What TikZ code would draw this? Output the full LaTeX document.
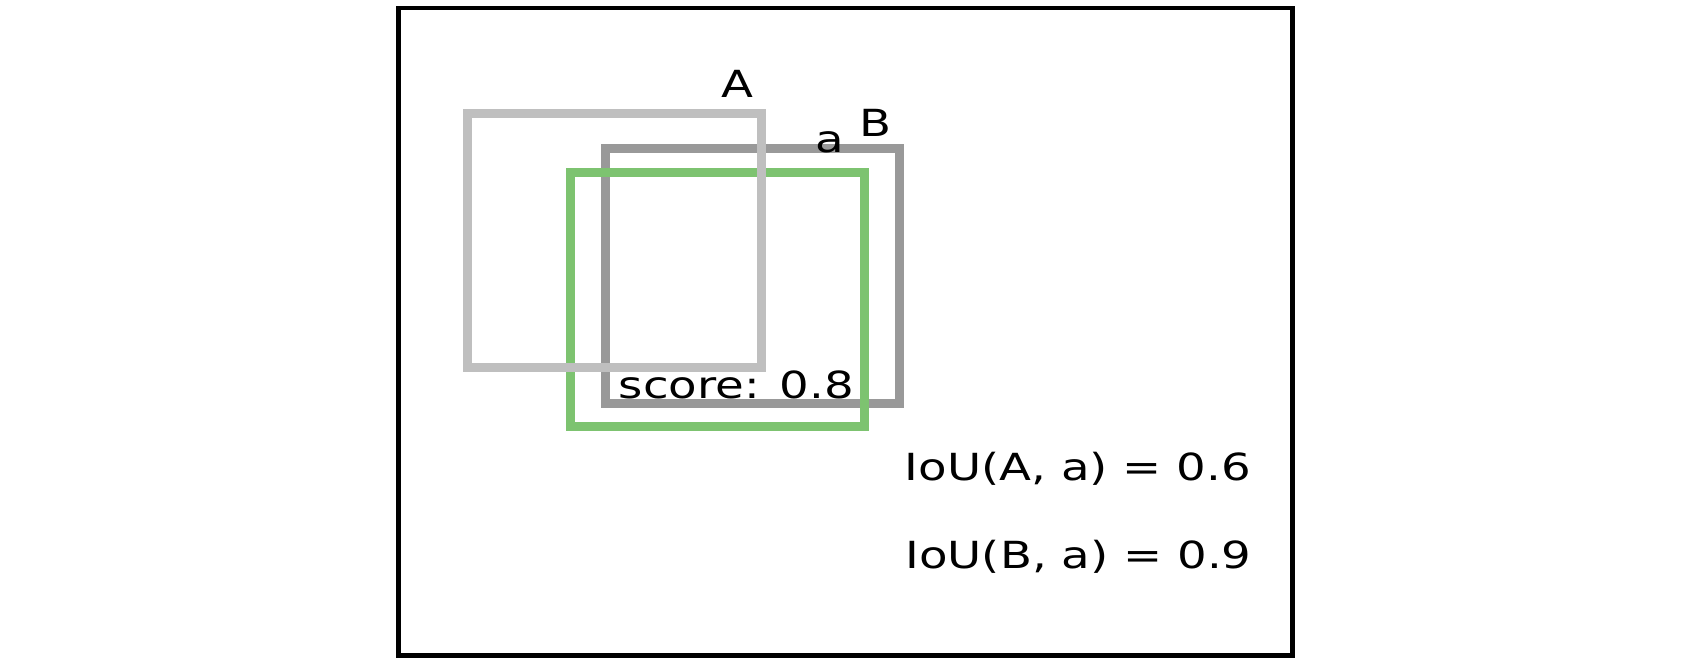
\documentclass[tikz,border=0pt]{standalone}
\usepackage{fontspec}
\setmainfont{DejaVu Sans}
\definecolor{boxA}{HTML}{BFBFBF}
\definecolor{boxB}{HTML}{999999}
\definecolor{boxG}{HTML}{7DC370}
\newcommand{\wide}[1]{\scalebox{1.25}[1]{#1}}
\tikzset{
  frame/.style={draw=black,line width=3.5pt},
  bbox/.style={line width=6.75pt},
  lbl/.style={inner sep=0pt,anchor=base,font=\fontsize{28}{32}\selectfont},
}
\begin{document}
\begin{tikzpicture}[x=0.75pt,y=-0.75pt]
\useasboundingbox (0,0) rectangle (1701,666);
\draw[frame] (398.3,8) rectangle (1292.5,655.8);
\draw[bbox,draw=boxB] (605.5,149) rectangle (899.5,403.3);
\draw[bbox,draw=boxG] (570.5,172.8) rectangle (864.5,426.8);
\draw[bbox,draw=boxA] (467.2,113.2) rectangle (761.5,367.2);
\node[lbl] (lA) at (737,98) {\wide{A}};
\node[lbl] (la) at (830,153) {\wide{a}};
\node[lbl] (lB) at (875,137) {\wide{B}};
\node[lbl] (score) at (736.5,398) {\wide{score: 0.8}};
\node[lbl] (iou1) at (1078,480) {\wide{IoU(A, a) = 0.6}};
\node[lbl] (iou2) at (1078.5,568) {\wide{IoU(B, a) = 0.9}};
\end{tikzpicture}
\end{document}
